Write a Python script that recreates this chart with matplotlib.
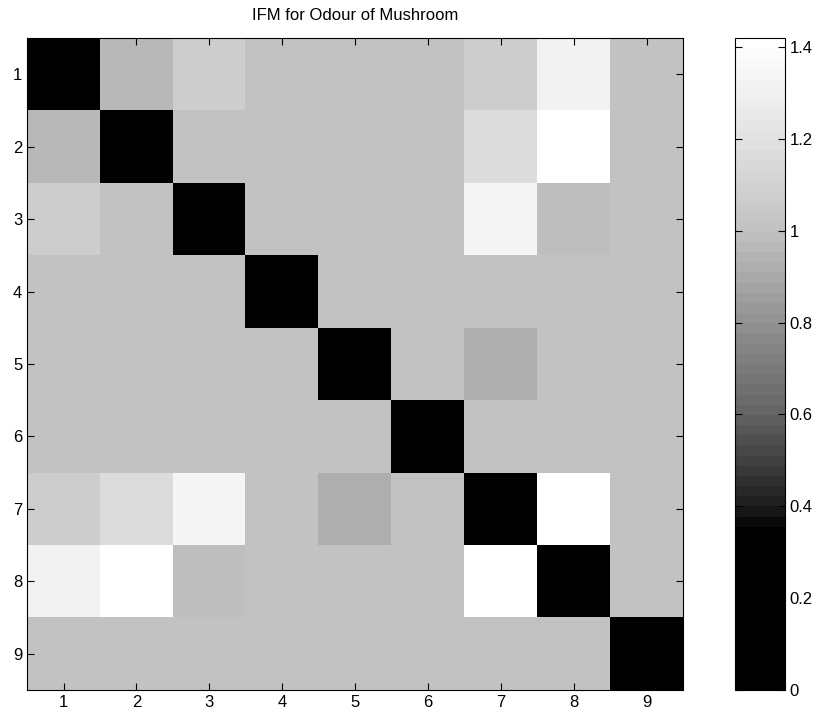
import numpy as np
import matplotlib
matplotlib.use("Agg")
import matplotlib.pyplot as plt
from matplotlib.colors import LinearSegmentedColormap

plt.rcParams['font.family'] = ['Liberation Sans', 'DejaVu Sans']

labels = [str(i) for i in range(1, 10)]

# IFM values (symmetric, zero diagonal)
ifm = np.array([
    [0.00, 0.97, 1.08, 1.00, 1.01, 1.00, 1.08, 1.33, 1.00],
    [0.97, 0.00, 1.00, 1.00, 1.01, 1.00, 1.17, 1.40, 1.00],
    [1.08, 1.00, 0.00, 1.00, 1.00, 1.00, 1.34, 0.98, 1.00],
    [1.00, 1.00, 1.00, 0.00, 1.00, 1.00, 1.00, 1.00, 1.00],
    [1.01, 1.01, 1.00, 1.00, 0.00, 1.00, 0.92, 1.00, 1.00],
    [1.00, 1.00, 1.00, 1.00, 1.00, 0.00, 1.00, 1.00, 1.00],
    [1.08, 1.17, 1.34, 1.00, 0.92, 1.00, 0.00, 1.42, 1.00],
    [1.33, 1.40, 0.98, 1.00, 1.00, 1.00, 1.42, 0.00, 1.00],
    [1.00, 1.00, 1.00, 1.00, 1.00, 1.00, 1.00, 1.00, 0.00],
])

vmax = 1.42
# grey ramp: black at the low end, white at the top
anchors = [(0.0, 0), (0.34, 0), (0.4, 30), (0.6, 100), (0.8, 145),
           (1.0, 192), (1.2, 225), (1.42, 255)]
cmap = LinearSegmentedColormap.from_list(
    "ifmgray", [(v / vmax, (g / 255, g / 255, g / 255)) for v, g in anchors], N=64)

fig = plt.figure(figsize=(8.22, 7.2), dpi=100)
ax = fig.add_axes([0.033, 0.042, 0.798, 0.905])
cax = fig.add_axes([0.894, 0.042, 0.061, 0.905])

im = ax.imshow(ifm, cmap=cmap, vmin=0, vmax=vmax, aspect='auto',
               interpolation='nearest')
ax.set_xticks(range(9))
ax.set_yticks(range(9))
ax.set_xticklabels(labels)
ax.set_yticklabels(labels)
ax.tick_params(direction='in', top=True, right=True, length=5,
               labelsize=12, width=0.8)
ax.set_title("IFM for Odour of Mushroom", fontsize=12, pad=13)
for s in ax.spines.values():
    s.set_linewidth(0.8)

cb = fig.colorbar(im, cax=cax)
cb.set_ticks([0, 0.2, 0.4, 0.6, 0.8, 1.0, 1.2, 1.4])
cb.set_ticklabels(["0", "0.2", "0.4", "0.6", "0.8", "1", "1.2", "1.4"])
cax.tick_params(direction='in', left=True, right=True, length=5,
                labelsize=12, width=0.8)
cb.outline.set_linewidth(0.8)

fig.savefig("out.png", dpi=100)
